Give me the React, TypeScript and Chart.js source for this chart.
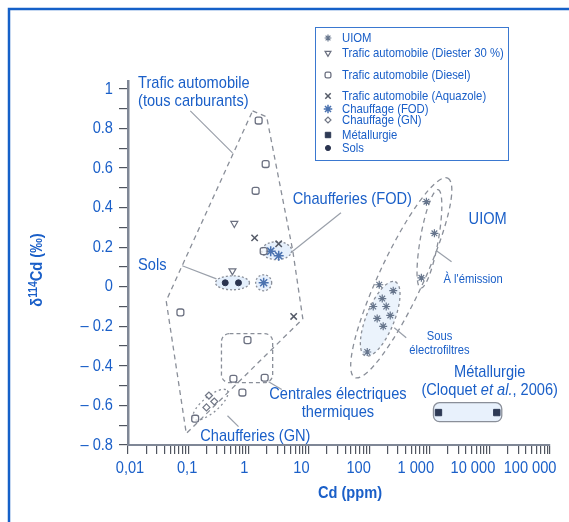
import React, { useEffect, useRef } from 'react';
import { Chart, registerables } from 'chart.js';
import { drawPoint } from 'chart.js/helpers';

Chart.register(...registerables);

// ---------- DATA ----------
const seriesLabels = [
  'UIOM',
  'Trafic automobile (Diester 30 %)',
  'Trafic automobile (Diesel)',
  'Trafic automobile (Aquazole)',
  'Chauffage (FOD)',
  'Chauffage (GN)',
  'Métallurgie',
  'Sols',
];

const uiomX = [891, 1210, 735, 147, 251, 165, 117, 192, 136, 224, 171, 93];
const uiomY = [0.43, 0.27, 0.045, 0.01, -0.02, -0.06, -0.1, -0.1, -0.16, -0.145, -0.2, -0.33];

const diesterX = [0.58, 0.54];
const diesterY = [0.32, 0.08];

const dieselX = [1.47, 1.92, 1.31, 1.78, 0.96, 0.56, 1.85, 0.79, 0.074, 0.13];
const dieselY = [0.84, 0.62, 0.485, 0.18, -0.27, -0.465, -0.46, -0.535, -0.13, -0.667];

const aquazoleX = [1.26, 3.16, 5.6];
const aquazoleY = [0.247, 0.217, -0.15];

const fodX = [2.33, 3.16, 1.78];
const fodY = [0.18, 0.157, 0.02];

const gnX = [0.22, 0.27, 0.2];
const gnY = [-0.55, -0.58, -0.61];

const metalX = [1413, 13100];
const metalY = [-0.636, -0.636];

const solsX = [0.41, 0.68];
const solsY = [0.02, 0.02];

const xMajorTicks = [0.01, 0.1, 1, 10, 100, 1000, 10000, 100000];
const xTickLabels = ['0,01', '0,1', '1', '10', '100', '1 000', '10 000', '100 000'];

const yMajorTicks = [-0.8, -0.6, -0.4, -0.2, 0, 0.2, 0.4, 0.6, 0.8, 1];
const yTickLabels = ['– 0.8', '– 0.6', '– 0.4', '– 0.2', '0', '0.2', '0.4', '0.6', '0.8', '1'];

// ---------- STYLE ----------
const FONT = "'Liberation Sans', Arial, sans-serif";
const NARROW = 0.86;
const BLUE = '#1a5fc8';
const GREY = '#8a8f99';

const seriesXY = [
  [uiomX, uiomY],
  [diesterX, diesterY],
  [dieselX, dieselY],
  [aquazoleX, aquazoleY],
  [fodX, fodY],
  [gnX, gnY],
  [metalX, metalY],
  [solsX, solsY],
];

const seriesStyle = [
  { pointStyle: 'star', radius: 4, rotation: 0, border: '#66758c', fill: 'rgba(180,205,240,0.5)', bw: 1.2 },
  { pointStyle: 'triangle', radius: 4, rotation: 180, border: '#6b7080', fill: 'rgba(255,255,255,0.6)', bw: 1.2 },
  { pointStyle: 'rectRounded', radius: 4, rotation: 0, border: '#6b7080', fill: 'rgba(255,255,255,0.6)', bw: 1.3 },
  { pointStyle: 'crossRot', radius: 4.5, rotation: 0, border: '#555b68', fill: 'rgba(0,0,0,0)', bw: 1.5 },
  { pointStyle: 'star', radius: 5, rotation: 0, border: '#4a72b0', fill: 'rgba(120,160,220,0.6)', bw: 1.5 },
  { pointStyle: 'rectRot', radius: 3.5, rotation: 0, border: '#707685', fill: 'rgba(255,255,255,0.6)', bw: 1.2 },
  { pointStyle: 'rect', radius: 4.5, rotation: 0, border: '#2e3a55', fill: '#2e3a55', bw: 1 },
  { pointStyle: 'circle', radius: 3, rotation: 0, border: '#2a3450', fill: '#2a3450', bw: 1 },
];

// ---------- ANNOTATIONS (data coordinates) ----------
const traficPolygon = [
  [1.166, 0.889], [1.995, 0.859], [5.41, 0.182], [7.94, -0.162], [0.0926, -0.742], [0.043, -0.071],
];

type Ell = { cx: number; cy: number; a: number; b: number; ang: number; dash: number[]; fill?: string };
const ellipses: Ell[] = [
  { cx: 0.541, cy: 0.02, a: 17, b: 7, ang: 0, dash: [2, 2], fill: 'rgba(205,225,250,0.55)' },
  { cx: 1.78, cy: 0.02, a: 8, b: 8, ang: 0, dash: [2, 2], fill: 'rgba(205,225,250,0.45)' },
  { cx: 2.93, cy: 0.182, a: 15, b: 9, ang: 0, dash: [2, 2], fill: 'rgba(205,225,250,0.5)' },
  { cx: 0.233, cy: -0.596, a: 22, b: 8, ang: -40, dash: [2, 3] },
  { cx: 341, cy: 0.045, a: 110, b: 22, ang: -65, dash: [5, 4] },
  { cx: 1000, cy: 0.242, a: 50, b: 9, ang: -80, dash: [5, 4] },
  { cx: 152.6, cy: -0.162, a: 40, b: 14, ang: -68, dash: [3, 3], fill: 'rgba(215,232,250,0.5)' },
];

const rects = [
  { x1: 0.355, y1: -0.237, x2: 2.51, y2: -0.485, r: 8, dash: [4, 3], fill: '' },
  { x1: 1166, y1: -0.586, x2: 15850, y2: -0.682, r: 6, dash: [], fill: 'rgba(210,228,250,0.5)' },
];

const leaders = [
  [0.108, 0.889, 0.541, 0.677],
  [0.0794, 0.106, 0.293, 0.04],
  [34.1, 0.374, 5.01, 0.172],
  [2.15, -0.48, 3.55, -0.52],
  [0.447, -0.652, 0.681, -0.707],
  [1309, 0.182, 2328, 0.126],
  [261, -0.207, 412, -0.258],
];

type Lbl = { t: string; x: number; y: number; size: number; align: CanvasTextAlign };
const labels: Lbl[] = [
  { t: 'Trafic automobile', x: 0.01468, y: 1.03, size: 17, align: 'left' },
  { t: '(tous carburants)', x: 0.01468, y: 0.939, size: 17, align: 'left' },
  { t: 'Chaufferies (FOD)', x: 5.41, y: 0.444, size: 17, align: 'left' },
  { t: 'Sols', x: 0.01468, y: 0.106, size: 17, align: 'left' },
  { t: 'UIOM', x: 4467, y: 0.343, size: 17, align: 'left' },
  { t: "À l'émission", x: 1711, y: 0.035, size: 13, align: 'left' },
  { t: 'Sous', x: 1468, y: -0.253, size: 13, align: 'center' },
  { t: 'électrofiltres', x: 1468, y: -0.323, size: 13, align: 'center' },
  { t: 'Métallurgie', x: 10000, y: -0.434, size: 17, align: 'center' },
  { t: 'Centrales électriques', x: 30.4, y: -0.545, size: 17, align: 'center' },
  { t: 'thermiques', x: 30.4, y: -0.636, size: 17, align: 'center' },
  { t: 'Chaufferies (GN)', x: 0.158, y: -0.758, size: 17, align: 'left' },
];
const cloquet = { x: 10000, y: -0.525 };

const legendRows = [38, 53, 75, 96, 109, 120, 135, 148];

const near = (a: number, b: number) => Math.abs(a - b) < 1e-9;

function text(ctx: CanvasRenderingContext2D, t: string, x: number, y: number, font: string, align: CanvasTextAlign, sx = NARROW) {
  ctx.save();
  ctx.font = font;
  ctx.textAlign = align;
  ctx.textBaseline = 'middle';
  ctx.translate(x, y);
  ctx.scale(sx, 1);
  ctx.fillText(t, 0, 0);
  ctx.restore();
}

function partsText(ctx: CanvasRenderingContext2D, parts: { t: string; f: string; dy: number }[], cx: number, y: number, sx = NARROW) {
  ctx.save();
  ctx.textBaseline = 'middle';
  ctx.textAlign = 'left';
  let total = 0;
  parts.forEach((p) => {
    ctx.font = p.f;
    total += ctx.measureText(p.t).width;
  });
  ctx.translate(cx, y);
  ctx.scale(sx, 1);
  let x = -total / 2;
  parts.forEach((p) => {
    ctx.font = p.f;
    ctx.fillText(p.t, x, p.dy);
    x += ctx.measureText(p.t).width;
  });
  ctx.restore();
}

const annotPlugin = {
  id: 'annot',
  beforeDatasetsDraw(chart: any) {
    const ctx: CanvasRenderingContext2D = chart.ctx;
    const xs = chart.scales.x;
    const ys = chart.scales.y;
    const px = (v: number) => xs.getPixelForValue(v);
    const py = (v: number) => ys.getPixelForValue(v);
    ctx.save();
    ctx.strokeStyle = GREY;
    ctx.lineWidth = 1.3;
    ctx.setLineDash([5, 4]);
    ctx.beginPath();
    traficPolygon.forEach(([x, y], i) => (i ? ctx.lineTo(px(x), py(y)) : ctx.moveTo(px(x), py(y))));
    ctx.closePath();
    ctx.stroke();
    ellipses.forEach((e) => {
      ctx.beginPath();
      ctx.ellipse(px(e.cx), py(e.cy), e.a, e.b, (e.ang * Math.PI) / 180, 0, Math.PI * 2);
      if (e.fill) {
        ctx.fillStyle = e.fill;
        ctx.fill();
      }
      ctx.setLineDash(e.dash);
      ctx.stroke();
    });
    rects.forEach((r) => {
      const x1 = px(r.x1), x2 = px(r.x2), y1 = py(r.y1), y2 = py(r.y2);
      ctx.beginPath();
      (ctx as any).roundRect(x1, y1, x2 - x1, y2 - y1, r.r);
      if (r.fill) {
        ctx.fillStyle = r.fill;
        ctx.fill();
      }
      ctx.setLineDash(r.dash);
      ctx.stroke();
    });
    ctx.setLineDash([]);
    ctx.strokeStyle = '#9aa0aa';
    ctx.lineWidth = 1.2;
    leaders.forEach(([a, b, c, d]) => {
      ctx.beginPath();
      ctx.moveTo(px(a), py(b));
      ctx.lineTo(px(c), py(d));
      ctx.stroke();
    });
    ctx.restore();
  },
  afterDraw(chart: any) {
    const ctx: CanvasRenderingContext2D = chart.ctx;
    const xs = chart.scales.x;
    const ys = chart.scales.y;
    const px = (v: number) => xs.getPixelForValue(v);
    const py = (v: number) => ys.getPixelForValue(v);
    const area = chart.chartArea;
    ctx.save();
    ctx.fillStyle = BLUE;
    labels.forEach((l) => text(ctx, l.t, px(l.x), py(l.y), `${l.size}px ${FONT}`, l.align));
    partsText(
      ctx,
      [
        { t: '(Cloquet ', f: `17px ${FONT}`, dy: 0 },
        { t: 'et al.', f: `italic 17px ${FONT}`, dy: 0 },
        { t: ', 2006)', f: `17px ${FONT}`, dy: 0 },
      ],
      px(cloquet.x),
      py(cloquet.y)
    );
    // y tick labels
    yMajorTicks.forEach((v, i) => text(ctx, yTickLabels[i], area.left - 15, py(v), `17px ${FONT}`, 'right'));
    // x tick labels
    xMajorTicks.forEach((v, i) => {
      const p = area.left + (px(v) - area.left) * 0.948 + 2;
      text(ctx, xTickLabels[i], p, area.bottom + 23, `17px ${FONT}`, 'center');
    });
    // x title
    text(ctx, 'Cd (ppm)', (area.left + area.right) / 2 + 11, area.bottom + 48, `bold 17px ${FONT}`, 'center');
    // y title
    ctx.save();
    ctx.translate(37, (area.top + area.bottom) / 2 + 7);
    ctx.rotate(-Math.PI / 2);
    partsText(
      ctx,
      [
        { t: 'δ', f: `bold 17px ${FONT}`, dy: 0 },
        { t: '114', f: `bold 12px ${FONT}`, dy: -3 },
        { t: 'Cd (‰)', f: `bold 17px ${FONT}`, dy: 0 },
      ],
      0,
      0
    );
    ctx.restore();
    // legend box
    ctx.strokeStyle = '#3a78d0';
    ctx.lineWidth = 1;
    ctx.strokeRect(315.5, 27.5, 193, 133);
    seriesLabels.forEach((lab, i) => {
      const st = seriesStyle[i];
      const y = legendRows[i];
      ctx.fillStyle = st.fill;
      ctx.strokeStyle = st.border;
      ctx.lineWidth = st.bw;
      drawPoint(ctx, { pointStyle: st.pointStyle as any, radius: st.radius * 0.85, rotation: st.rotation, borderWidth: st.bw } as any, 328, y);
      ctx.fillStyle = BLUE;
      text(ctx, lab, 342, y, `13px ${FONT}`, 'left', 0.87);
    });
    // frame
    ctx.strokeStyle = '#1560c8';
    ctx.lineWidth = 2.5;
    ctx.beginPath();
    ctx.moveTo(9, 522);
    ctx.lineTo(9, 9);
    ctx.lineTo(569, 9);
    ctx.stroke();
    ctx.restore();
  },
};

export default function App() {
  const ref = useRef<HTMLCanvasElement | null>(null);
  useEffect(() => {
    if (!ref.current) return;
    const datasets = seriesLabels.map((label, i) => {
      const [xa, ya] = seriesXY[i];
      const st = seriesStyle[i];
      return {
        label,
        data: xa.map((x, j) => ({ x, y: ya[j] })),
        pointStyle: st.pointStyle as any,
        pointRadius: st.radius,
        pointRotation: st.rotation,
        borderColor: st.border,
        backgroundColor: st.fill,
        pointBorderWidth: st.bw,
        showLine: false,
      };
    });
    const minorX: number[] = [];
    xMajorTicks.forEach((m, i) => {
      if (i === xMajorTicks.length - 1) {
        minorX.push(m);
        return;
      }
      for (let k = 1; k < 10; k++) minorX.push(m * k);
    });
    const allY: number[] = [];
    yMajorTicks.forEach((m, i) => {
      allY.push(m);
      if (i < yMajorTicks.length - 1) allY.push((m + yMajorTicks[i + 1]) / 2);
    });
    const chart = new Chart(ref.current, {
      type: 'scatter',
      data: { datasets },
      plugins: [annotPlugin],
      options: {
        animation: false,
        responsive: false,
        devicePixelRatio: 1,
        layout: { padding: { left: 8, top: 81, right: 19, bottom: 0 } },
        plugins: { legend: { display: false }, tooltip: { enabled: false } },
        scales: {
          x: {
            type: 'logarithmic',
            min: 0.01,
            max: 100000,
            afterBuildTicks: (axis: any) => {
              axis.ticks = minorX.map((v) => ({ value: v }));
            },
            afterFit: (axis: any) => {
              axis.height = 77;
              axis.paddingLeft = 0;
              axis.paddingRight = 0;
            },
            grid: { drawOnChartArea: false, drawTicks: true, tickLength: 9, color: '#50555f', lineWidth: 1.2 },
            border: { display: true, color: '#7f8796', width: 2 },
            ticks: { display: false, autoSkip: false },
          },
          y: {
            type: 'linear',
            min: -0.8,
            max: 1.04,
            afterBuildTicks: (axis: any) => {
              axis.ticks = allY.map((v) => ({ value: v }));
            },
            afterFit: (axis: any) => {
              axis.width = 120;
              axis.paddingTop = 0;
              axis.paddingBottom = 0;
            },
            grid: { drawOnChartArea: false, drawTicks: true, tickLength: 9, color: '#50555f', lineWidth: 1.2 },
            border: { display: true, color: '#7f8796', width: 2.5 },
            ticks: { display: false, autoSkip: false },
          },
        },
      } as any,
    });
    return () => chart.destroy();
  }, []);
  return (
    <div style={{ position: 'absolute', left: 0, top: 0, width: 569, height: 522, background: '#fff' }}>
      <canvas ref={ref} width={569} height={522} />
    </div>
  );
}
